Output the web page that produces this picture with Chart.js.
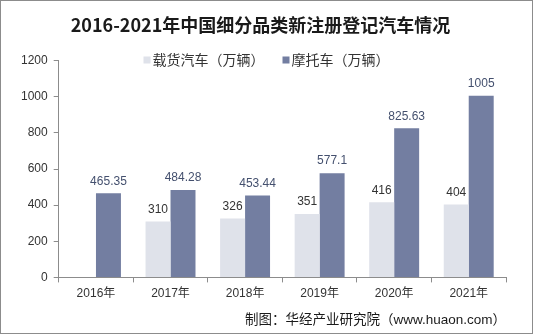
<!DOCTYPE html>
<html lang="zh">
<head>
<meta charset="UTF-8">
<title>2016-2021年中国细分品类新注册登记汽车情况</title>
<script src="https://cdn.jsdelivr.net/npm/chart.js"></script>
<style>
    body { margin: 0; background: #fff; }
    .wrap { width: 533px; height: 334px; position: relative; }
</style>
</head>
<body>
<div class="wrap"><canvas id="chart" width="533" height="334"></canvas></div>
<script>
const years = ['2016年', '2017年', '2018年', '2019年', '2020年', '2021年'];
const trucks = [null, 310, 326, 351, 416, 404];
const motorcycles = [465.35, 484.28, 453.44, 577.1, 825.63, 1005];
const truckLabels = ['', '310', '326', '351', '416', '404'];
const motoLabels = ['465.35', '484.28', '453.44', '577.1', '825.63', '1005'];

const sans = '"Liberation Sans", "Noto Sans CJK SC", sans-serif';

// frame around the whole picture
const framePlugin = {
    id: 'frame',
    beforeDraw(chart) {
        const c = chart.ctx;
        c.save();
        c.fillStyle = '#fff';
        c.fillRect(0, 0, chart.width, chart.height);
        c.strokeStyle = '#8c8c8c';
        c.lineWidth = 1;
        c.strokeRect(0.5, 0.5, chart.width - 1, chart.height - 1);
        c.restore();
    }
};

// legend drawn by hand so it can sit inside the plot's top band
const legendPlugin = {
    id: 'topLegend',
    afterDraw(chart) {
        const c = chart.ctx;
        c.save();
        c.font = '14px ' + sans;
        c.textBaseline = 'middle';
        const box = 7, gap = 2, spacing = 18, y = 60;
        const items = chart.data.datasets.map(ds => ({
            text: ds.label, color: ds.backgroundColor, w: box + gap + c.measureText(ds.label).width
        }));
        const total = items.reduce((s, it) => s + it.w, 0) + spacing * (items.length - 1);
        let x = (chart.width - total) / 2;
        items.forEach(it => {
            c.fillStyle = it.color;
            c.fillRect(x, y - box / 2, box, box);
            c.fillStyle = '#333';
            c.fillText(it.text, x + box + gap, y + 1);
            x += it.w + spacing;
        });
        c.restore();
    }
};

// value labels above each bar
const valueLabels = {
    id: 'valueLabels',
    afterDatasetsDraw(chart) {
        const c = chart.ctx;
        c.save();
        c.font = '12px ' + sans;
        c.textAlign = 'center';
        c.textBaseline = 'bottom';
        const sets = [[truckLabels, '#333333'], [motoLabels, '#44506e']];
        sets.forEach(([labels, color], i) => {
            const meta = chart.getDatasetMeta(i);
            meta.data.forEach((bar, j) => {
                if (!labels[j]) return;
                c.fillStyle = color;
                c.fillText(labels[j], bar.x, bar.y - 6);
            });
        });
        c.restore();
    }
};

new Chart(document.getElementById('chart'), {
    type: 'bar',
    data: {
        labels: years,
        datasets: [
            { label: '载货汽车（万辆）', data: trucks, backgroundColor: '#dfe2ea' },
            { label: '摩托车（万辆）', data: motorcycles, backgroundColor: '#737ea1' }
        ]
    },
    options: {
        responsive: false,
        animation: false,
        layout: { padding: { left: 15, right: 27, top: 0, bottom: 0 } },
        datasets: { bar: { categoryPercentage: 0.67, barPercentage: 1 } },
        plugins: {
            title: {
                display: true,
                text: '2016-2021年中国细分品类新注册登记汽车情况',
                color: '#1a1a1a',
                font: { family: '"Noto Sans CJK SC", serif', size: 18, weight: 'bold' },
                padding: { top: 14, bottom: 25 }
            },
            legend: { display: false },
            subtitle: {
                display: true,
                position: 'bottom',
                align: 'end',
                text: '制图：华经产业研究院（www.huaon.com）',
                color: '#1a1a1a',
                font: { family: sans, size: 13.5 },
                padding: { top: 7, bottom: 6 }
            },
            tooltip: { enabled: false }
        },
        scales: {
            x: {
                grid: { display: true, drawOnChartArea: false, color: '#8c8c8c', tickLength: 5, offset: true },
                border: { color: '#8c8c8c' },
                ticks: { color: '#333', font: { family: sans, size: 12 }, padding: 4 }
            },
            y: {
                min: 0,
                max: 1200,
                grid: { display: true, drawOnChartArea: false, color: '#8c8c8c', tickLength: 5 },
                border: { color: '#8c8c8c' },
                ticks: {
                    stepSize: 200, color: '#333', font: { family: sans, size: 12 }, padding: 6,
                    callback: v => String(v)
                }
            }
        }
    },
    plugins: [framePlugin, valueLabels, legendPlugin]
});
</script>
</body>
</html>
